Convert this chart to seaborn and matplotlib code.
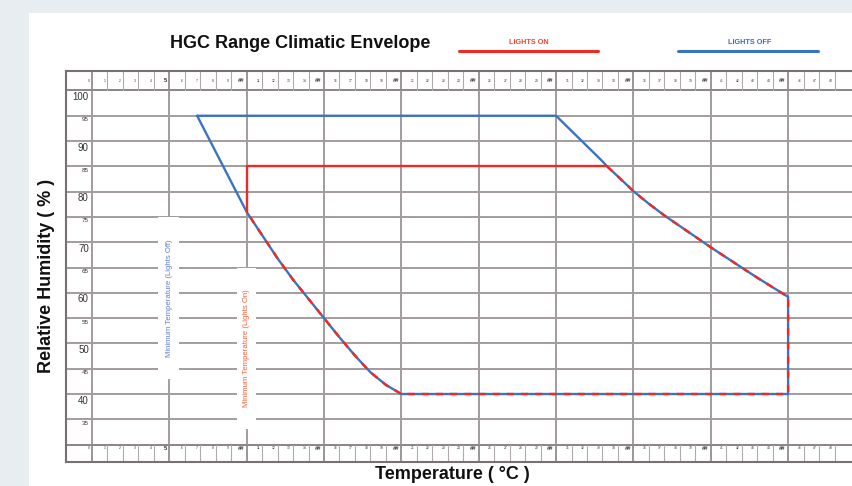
import matplotlib
matplotlib.use("Agg")
import matplotlib.pyplot as plt
from matplotlib.lines import Line2D
from matplotlib.patches import Rectangle
import seaborn as sns

# envelope outlines, temperature (degC) vs relative humidity (%)
lights_off_temp = [6.8, 30, 31, 32, 33, 33.3, 34, 35, 36, 37, 38, 39, 40, 41, 42, 43, 44, 45,
                   45, 20, 19, 18, 17, 16, 15, 14, 13, 12, 11, 10, 6.8]
lights_off_rh = [95, 95, 92, 89, 86, 85, 83, 80.1, 77.6, 75.3, 73.2, 71.1, 69, 67, 65, 63, 61.1, 59.2,
                 40, 40, 41.8, 44.3, 47.6, 51.2, 55, 58.8, 62.6, 66.8, 71.4, 76, 95]
lights_on_temp = [10, 10, 33.3, 34, 35, 36, 37, 38, 39, 40, 41, 42, 43, 44, 45,
                  45, 20, 19, 18, 17, 16, 15, 14, 13, 12, 11, 10]
lights_on_rh = [76, 85, 85, 83, 80.1, 77.6, 75.3, 73.2, 71.1, 69, 67, 65, 63, 61.1, 59.2,
                40, 40, 41.8, 44.3, 47.6, 51.2, 55, 58.8, 62.6, 66.8, 71.4, 76]

rh_ticks = list(range(100, 30, -5))
temp_cells = list(range(0, 49))

BLUE = "#3b73c4"
RED = "#ee2a24"
GRID = "#a29c9c"

sns.set_theme(style="white")
plt.rcParams["font.family"] = ["Liberation Sans", "DejaVu Sans"]

fig = plt.figure(figsize=(8.52, 4.86), dpi=100)
fig.patch.set_facecolor("#e8edf1")
fig.add_artist(Rectangle((29 / 852, 0), 1, (486 - 13) / 486, transform=fig.transFigure,
                         facecolor="white", edgecolor="none", zorder=0))

ax = fig.add_axes([65.5 / 852, 24 / 486, 1 - 65.5 / 852, 391 / 486])
ax.set_facecolor("white")
x0, x1 = -1.71, 49.13
y0, y1 = 26.56, 103.85
ax.set_xlim(x0, x1)
ax.set_ylim(y0, y1)

# grid of the chart body
for v in rh_ticks[1:]:
    ax.plot([x0, x1], [v, v], color=GRID, lw=1.4, zorder=1)
for v in [100, 30]:
    ax.plot([x0, x1], [v, v], color="#8a8484", lw=1.4, zorder=1)
for t in range(0, 50, 5):
    ax.plot([t, t], [30, 100], color=GRID, lw=1.4, zorder=1)

# ruler rows at top and bottom
for t in temp_cells:
    major = t % 5 == 0
    for lo, hi in [(100, y1), (y0, 30)]:
        ax.plot([t, t], [lo, hi], color="#8a8484" if major else "#b0aaaa",
                lw=1.2 if major else 0.8, zorder=1)
    if t == 0 or not major:
        lab, fs, fw = str(t), 2.4, "normal"
    else:
        lab, fs, fw = ("5" if t == 5 else "##"), 4.2, "bold"
    for yy in [101.9, 29.3]:
        ax.text(t - 0.15, yy, lab, ha="right", va="center", fontsize=fs,
                fontweight=fw, color="#333333", zorder=3)

# humidity labels in the left column
for v in rh_ticks:
    big = v % 10 == 0
    ax.text(-0.2, v - 0.3, str(v), ha="right", va="top",
            fontsize=7 if big else 4.5, color="#333333", zorder=3)

# minimum temperature notes with white gaps through the grid
ax.add_patch(Rectangle((4.3, 43), 1.3, 32, facecolor="white", edgecolor="none", zorder=2))
ax.text(5, 59, "Minimum Temperature (Lights Off)", rotation=90, ha="center", va="center",
        fontsize=5.6, color="#5b7fd0", zorder=3)
ax.add_patch(Rectangle((9.4, 33), 1.2, 32, facecolor="white", edgecolor="none", zorder=2))
ax.text(10, 49, "Minimum Temperature (Lights On)", rotation=90, ha="center", va="center",
        fontsize=5.6, color="#f0603a", zorder=3)

# envelopes
sns.lineplot(x=lights_off_temp, y=lights_off_rh, sort=False, estimator=None,
             color=BLUE, lw=1.7, ax=ax, zorder=4)
sns.lineplot(x=lights_on_temp[:3], y=lights_on_rh[:3], sort=False, estimator=None,
             color=RED, lw=1.7, ax=ax, zorder=4)
sns.lineplot(x=lights_on_temp[2:], y=lights_on_rh[2:], sort=False, estimator=None,
             color=RED, lw=1.7, linestyle=(0, (3, 3)), ax=ax, zorder=5)

ax.set_xticks([])
ax.set_yticks([])
ax.set_xlabel("")
ax.set_ylabel("")
for side in ["left", "top", "bottom"]:
    ax.spines[side].set_color("#777171")
    ax.spines[side].set_linewidth(1.5)
ax.spines["right"].set_visible(False)

# title, legend and axis titles
fig.text(170 / 852, 1 - 43 / 486, "HGC Range Climatic Envelope", ha="left", va="center",
         fontsize=13, fontweight="bold", color="#111111")
fig.add_artist(Line2D([459 / 852, 598 / 852], [1 - 51 / 486] * 2, color=RED, lw=2.2,
                      transform=fig.transFigure))
fig.text(529 / 852, 1 - 43 / 486, "LIGHTS ON", ha="center", va="center", fontsize=5.2,
         fontweight="bold", color="#e8452e")
fig.add_artist(Line2D([678 / 852, 818 / 852], [1 - 51 / 486] * 2, color=BLUE, lw=2.2,
                      transform=fig.transFigure))
fig.text(750 / 852, 1 - 43 / 486, "LIGHTS OFF", ha="center", va="center", fontsize=5.2,
         fontweight="bold", color="#3b6cc0")
fig.text(47 / 852, 1 - 276 / 486, "Relative Humidity ( % )", rotation=90, ha="center",
         va="center", fontsize=13, fontweight="bold", color="#111111")
fig.text(452 / 852, 1 - 474 / 486, "Temperature ( °C )", ha="center", va="center",
         fontsize=13, fontweight="bold", color="#111111")

fig.savefig("out.png", dpi=100, facecolor=fig.get_facecolor())
